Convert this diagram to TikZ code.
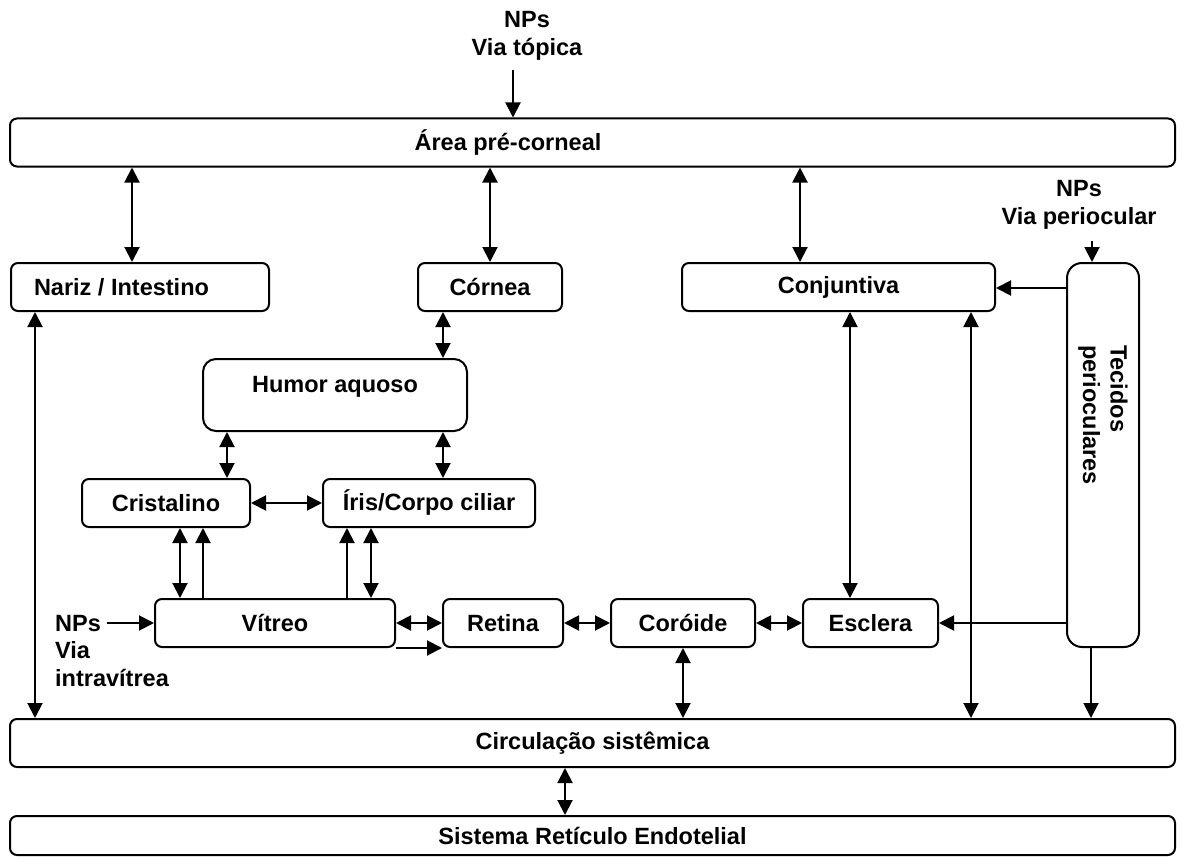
\documentclass[tikz,border=0pt]{standalone}
\usepackage{fontspec}
\setmainfont{Liberation Sans}
\usetikzlibrary{arrows.meta}

\begin{document}
\begin{tikzpicture}[x=1pt, y=-1pt,
    font=\fontsize{23.5}{27.5}\selectfont\bfseries,
    >={Triangle[length=15pt,width=15pt]},
    tissue/.style={draw, line width=2pt, rounded corners=7pt, minimum height=48pt, inner sep=0pt},
    band/.style={tissue, minimum width=1165pt},
    flow/.style={->, line width=2pt},
    swap/.style={<->, line width=2pt},
    route/.style={align=center, inner sep=0pt}]

  \useasboundingbox (0,0) rectangle (1185,856);

  % Define nodes
  \node[band, label={[xshift=-84.5pt]center:Área pré-corneal}] (pre) at (592.5,142.5) {};
  \node[tissue, minimum width=258pt, label={[xshift=-18.5pt]center:Nariz / Intestino}] (nariz) at (140,287) {};
  \node[tissue, minimum width=144pt] (cornea) at (490,287) {Córnea};
  \node[tissue, minimum width=313pt] (conj) at (838.5,287) {Conjuntiva};
  \node[tissue, rounded corners=15pt, minimum width=72pt, minimum height=384pt,
        label={[rotate=-90, align=left, xshift=-40pt]center:Tecidos\\perioculares}] (tecidos) at (1103,455) {};
  \node[tissue, rounded corners=13pt, minimum width=264pt, minimum height=72pt,
        label={[yshift=8pt]center:Humor aquoso}] (humor) at (335,395) {};
  \node[tissue, minimum width=168pt] (cristalino) at (166,503) {Cristalino};
  \node[tissue, minimum width=212pt] (iris) at (429,503) {Íris/Corpo ciliar};
  \node[tissue, minimum width=240pt] (vitreo) at (275,623) {Vítreo};
  \node[tissue, minimum width=120pt] (retina) at (503,623) {Retina};
  \node[tissue, minimum width=144pt] (coroide) at (683,623) {Coróide};
  \node[tissue, minimum width=135pt] (esclera) at (870.5,623) {Esclera};
  \node[band] (circ) at (592.5,743) {Circulação sistêmica};
  \node[band, minimum height=39pt] (sre) at (592.5,835.5) {Sistema Retículo Endotelial};

  % Routes of administration
  \node[route] (topica) at (527,36) {NPs\\Via tópica};
  \node[route] (perioc) at (1079,205) {NPs\\Via periocular};
  \node[route, align=left, anchor=north west] (intravit) at (55,615) {NPs\\Via\\intravítrea};
  \coordinate (intrain) at (107,623);

  % Connect nodes
  \draw[flow] ([xshift=-14pt, yshift=-10pt]topica.south) -- ([xshift=-79.5pt]pre.north);
  \draw[flow] ([xshift=13pt, yshift=-12pt]perioc.south) -- ([xshift=-11pt]tecidos.north);
  \draw[flow] (intrain) -- (vitreo.west);
  \draw[swap] ([xshift=-460.5pt]pre.south) -- ([xshift=-8pt]nariz.north);
  \draw[swap] ([xshift=-102.5pt]pre.south) -- (cornea.north);
  \draw[swap] ([xshift=207.5pt]pre.south) -- ([xshift=-38.5pt]conj.north);
  \draw[swap] ([xshift=-47pt]cornea.south) -- ([xshift=108pt]humor.north);
  \draw[swap] ([xshift=-108pt]humor.south) -- ([xshift=61pt]cristalino.north);
  \draw[swap] ([xshift=108pt]humor.south) -- ([xshift=14pt]iris.north);
  \draw[swap] (cristalino.east) -- (iris.west);
  \draw[swap] ([xshift=14pt]cristalino.south) -- ([xshift=-95pt]vitreo.north);
  \draw[flow] ([xshift=-72pt]vitreo.north) -- ([xshift=37pt]cristalino.south);
  \draw[flow] ([xshift=72pt]vitreo.north) -- ([xshift=-82pt]iris.south);
  \draw[swap] ([xshift=-58pt]iris.south) -- ([xshift=96pt]vitreo.north);
  \draw[swap] (vitreo.east) -- (retina.west);
  \draw[flow] (vitreo.south east) -- (retina.south west);
  \draw[swap] (retina.east) -- (coroide.west);
  \draw[swap] (coroide.east) -- (esclera.west);
  \draw[swap] ([xshift=11.5pt]conj.south) -- ([xshift=-20.5pt]esclera.north);
  \draw[swap] ([xshift=132.5pt]conj.south) -- ([xshift=378.5pt]circ.north);
  \draw[flow] ([yshift=167pt]tecidos.west) -- ([yshift=-1pt]conj.east);
  \draw[flow] ([yshift=-168pt]tecidos.west) -- (esclera.east);
  \draw[flow] ([xshift=-12pt]tecidos.south) -- ([xshift=498.5pt]circ.north);
  \draw[swap] ([xshift=-105pt]nariz.south) -- ([xshift=-557.5pt]circ.north);
  \draw[swap] (coroide.south) -- ([xshift=90.5pt]circ.north);
  \draw[swap] ([xshift=-27.5pt]circ.south) -- ([xshift=-27.5pt]sre.north);
\end{tikzpicture}
\end{document}
